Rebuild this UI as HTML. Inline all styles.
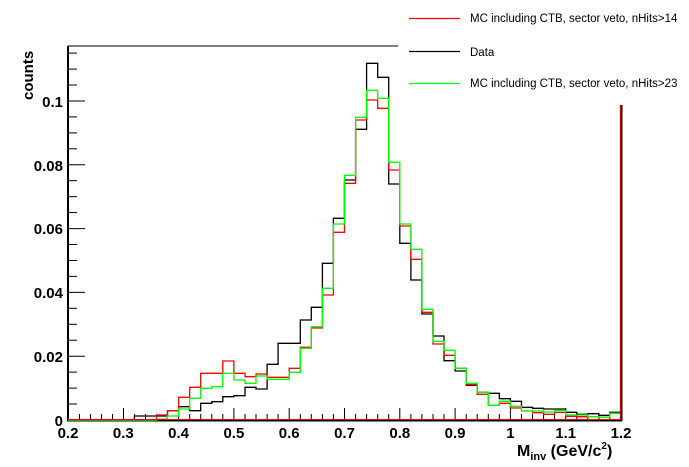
<!DOCTYPE html>
<html><head><meta charset="utf-8"><style>
html,body{margin:0;padding:0;background:#fff;}
svg{display:block;font-family:"Liberation Sans",Arial,sans-serif;}
</style></head><body>
<svg width="689" height="467" viewBox="0 0 689 467" xmlns="http://www.w3.org/2000/svg">
<rect width="689" height="467" fill="#fff"/>
<!-- frame -->
<line x1="68" y1="46" x2="398" y2="46" stroke="#000" stroke-width="1"/>
<line x1="68" y1="46" x2="68" y2="421" stroke="#000" stroke-width="2"/>
<line x1="67" y1="420.5" x2="622" y2="420.5" stroke="#000" stroke-width="2"/>
<!-- y ticks -->
<g stroke="#000" stroke-width="1">
<line x1="68" y1="420" x2="85" y2="420"/><line x1="68" y1="404" x2="77" y2="404"/><line x1="68" y1="388.1" x2="77" y2="388.1"/><line x1="68" y1="372.1" x2="77" y2="372.1"/>
<line x1="68" y1="356.2" x2="85" y2="356.2"/><line x1="68" y1="340.2" x2="77" y2="340.2"/><line x1="68" y1="324.3" x2="77" y2="324.3"/><line x1="68" y1="308.3" x2="77" y2="308.3"/>
<line x1="68" y1="292.4" x2="85" y2="292.4"/><line x1="68" y1="276.4" x2="77" y2="276.4"/><line x1="68" y1="260.5" x2="77" y2="260.5"/><line x1="68" y1="244.5" x2="77" y2="244.5"/>
<line x1="68" y1="228.6" x2="85" y2="228.6"/><line x1="68" y1="212.6" x2="77" y2="212.6"/><line x1="68" y1="196.7" x2="77" y2="196.7"/><line x1="68" y1="180.7" x2="77" y2="180.7"/>
<line x1="68" y1="164.8" x2="85" y2="164.8"/><line x1="68" y1="148.8" x2="77" y2="148.8"/><line x1="68" y1="132.9" x2="77" y2="132.9"/><line x1="68" y1="116.9" x2="77" y2="116.9"/>
<line x1="68" y1="101" x2="85" y2="101"/><line x1="68" y1="85" x2="77" y2="85"/><line x1="68" y1="69.1" x2="77" y2="69.1"/><line x1="68" y1="53.1" x2="77" y2="53.1"/>
</g>
<!-- x ticks -->
<g stroke="#000" stroke-width="1">
<line x1="68.5" y1="408" x2="68.5" y2="420"/><line x1="79.5" y1="414" x2="79.5" y2="420"/><line x1="90.5" y1="414" x2="90.5" y2="420"/><line x1="101.5" y1="414" x2="101.5" y2="420"/><line x1="112.5" y1="414" x2="112.5" y2="420"/>
<line x1="123.5" y1="408" x2="123.5" y2="420"/><line x1="134.5" y1="414" x2="134.5" y2="420"/><line x1="145.5" y1="414" x2="145.5" y2="420"/><line x1="156.5" y1="414" x2="156.5" y2="420"/><line x1="167.5" y1="414" x2="167.5" y2="420"/>
<line x1="178.6" y1="408" x2="178.6" y2="420"/><line x1="189.7" y1="414" x2="189.7" y2="420"/><line x1="200.7" y1="414" x2="200.7" y2="420"/><line x1="211.8" y1="414" x2="211.8" y2="420"/><line x1="222.8" y1="414" x2="222.8" y2="420"/>
<line x1="233.9" y1="408" x2="233.9" y2="420"/><line x1="245" y1="414" x2="245" y2="420"/><line x1="256" y1="414" x2="256" y2="420"/><line x1="267.1" y1="414" x2="267.1" y2="420"/><line x1="278.1" y1="414" x2="278.1" y2="420"/>
<line x1="289.2" y1="408" x2="289.2" y2="420"/><line x1="300.3" y1="414" x2="300.3" y2="420"/><line x1="311.3" y1="414" x2="311.3" y2="420"/><line x1="322.4" y1="414" x2="322.4" y2="420"/><line x1="333.4" y1="414" x2="333.4" y2="420"/>
<line x1="344.5" y1="408" x2="344.5" y2="420"/><line x1="355.6" y1="414" x2="355.6" y2="420"/><line x1="366.6" y1="414" x2="366.6" y2="420"/><line x1="377.7" y1="414" x2="377.7" y2="420"/><line x1="388.7" y1="414" x2="388.7" y2="420"/>
<line x1="399.8" y1="408" x2="399.8" y2="420"/><line x1="410.9" y1="414" x2="410.9" y2="420"/><line x1="421.9" y1="414" x2="421.9" y2="420"/><line x1="433" y1="414" x2="433" y2="420"/><line x1="444" y1="414" x2="444" y2="420"/>
<line x1="455.1" y1="408" x2="455.1" y2="420"/><line x1="466.2" y1="414" x2="466.2" y2="420"/><line x1="477.2" y1="414" x2="477.2" y2="420"/><line x1="488.3" y1="414" x2="488.3" y2="420"/><line x1="499.3" y1="414" x2="499.3" y2="420"/>
<line x1="510.4" y1="408" x2="510.4" y2="420"/><line x1="521.5" y1="414" x2="521.5" y2="420"/><line x1="532.5" y1="414" x2="532.5" y2="420"/><line x1="543.6" y1="414" x2="543.6" y2="420"/><line x1="554.6" y1="414" x2="554.6" y2="420"/>
<line x1="565.7" y1="408" x2="565.7" y2="420"/><line x1="576.8" y1="414" x2="576.8" y2="420"/><line x1="587.8" y1="414" x2="587.8" y2="420"/><line x1="598.9" y1="414" x2="598.9" y2="420"/><line x1="609.9" y1="414" x2="609.9" y2="420"/>
</g>
<!-- histograms -->
<path fill="none" stroke="#000" stroke-width="1.3" d="M68 420 H134.4 V416 H167.5 V410.7 H178.6 V406.7 H189.7 V410.7 H200.7 V403.3 H211.8 V401.7 H222.8 V396.7 H233.9 V395.7 H245 V387.3 H256 V389 H267.1 V364.3 H278.1 V343.3 H300.3 V320 H311.3 V307.3 H322.4 V263.3 H333.4 V218.3 H344.5 V180 H355.6 V129.3 H366.6 V63.3 H377.7 V77.3 H388.7 V184 H399.8 V243.3 H410.9 V280 H421.9 V314 H433 V336 H444 V360.7 H455.1 V371 H466.2 V385.3 H477.2 V392.3 H488.3 V393.3 H499.3 V398.7 H510.4 V401.3 H521.5 V407.3 H532.5 V408.3 H543.6 V409 H565.7 V412.3 H576.8 V414.3 H587.8 V413.7 H598.9 V415.3 H609.9 V412.3 H621"/>
<path fill="none" stroke="#f00" stroke-width="1.3" d="M68 420 H156.5 V415 H167.5 V410.7 H178.6 V397.3 H189.7 V387.3 H200.7 V373.3 H222.8 V361 H233.9 V373.3 H245 V376.7 H256 V374 H267.1 V377.3 H289.2 V368.3 H300.3 V347.3 H311.3 V328 H322.4 V295 H333.4 V232.3 H344.5 V183.3 H355.6 V120 H366.6 V100 H377.7 V108.3 H388.7 V170 H399.8 V226 H410.9 V259.3 H421.9 V312.3 H433 V344 H444 V355.3 H455.1 V368.3 H466.2 V384.7 H477.2 V394.3 H488.3 V405.3 H499.3 V403.3 H510.4 V408 H521.5 V411 H532.5 V412.7 H543.6 V414.3 H554.6 V412.3 H565.7 V416.3 H576.8 V416.7 H598.9 V417.3 H609.9 V413.3 H621"/>
<path fill="none" stroke="#0f0" stroke-width="1.3" d="M68 420 H156.5 V419 H167.5 V416 H178.6 V409 H189.7 V398.3 H200.7 V388.3 H211.8 V386.7 H222.8 V373.3 H233.9 V380 H245 V383.3 H256 V376 H267.1 V379.3 H289.2 V372.3 H300.3 V348.3 H311.3 V326.7 H322.4 V288.3 H333.4 V224 H344.5 V175.3 H355.6 V117.3 H366.6 V90.3 H377.7 V98.3 H388.7 V162.3 H399.8 V224 H410.9 V249.3 H421.9 V309.3 H433 V341.3 H444 V350.3 H455.1 V368.3 H466.2 V383.3 H477.2 V392.3 H488.3 V405.3 H499.3 V401.3 H510.4 V406.3 H521.5 V411 H543.6 V412 H554.6 V410.3 H565.7 V415 H587.8 V416.7 H598.9 V417.3 H609.9 V413.3 H621"/>
<line x1="68" y1="419.5" x2="621" y2="419.5" stroke="#f00" stroke-width="1"/>
<!-- right edge -->
<line x1="621.5" y1="105" x2="621.5" y2="421" stroke="#000" stroke-width="2"/>
<line x1="620.3" y1="105" x2="620.3" y2="420" stroke="#f00" stroke-width="1"/>
<!-- y labels -->
<g font-size="15" font-weight="bold" text-anchor="end" fill="#000">
<text x="63" y="107">0.1</text>
<text x="63" y="171">0.08</text>
<text x="63" y="234">0.06</text>
<text x="63" y="298">0.04</text>
<text x="63" y="362">0.02</text>
<text x="63" y="426">0</text>
</g>
<!-- x labels -->
<g font-size="15" font-weight="bold" text-anchor="middle" fill="#000">
<text x="68" y="438">0.2</text>
<text x="123.3" y="438">0.3</text>
<text x="178.6" y="438">0.4</text>
<text x="233.9" y="438">0.5</text>
<text x="289.2" y="438">0.6</text>
<text x="344.5" y="438">0.7</text>
<text x="399.8" y="438">0.8</text>
<text x="455.1" y="438">0.9</text>
<text x="510.4" y="438">1</text>
<text x="565.7" y="438">1.1</text>
<text x="621" y="438">1.2</text>
</g>
<text transform="translate(33,100) rotate(-90)" font-size="15" font-weight="bold">counts</text>
<text x="517" y="456" font-size="16" font-weight="bold">M<tspan font-size="11" dy="4">inv</tspan><tspan dy="-4"> (GeV/c</tspan><tspan font-size="10" dy="-7">2</tspan><tspan dy="7">)</tspan></text>
<!-- legend -->
<g stroke-width="1.2">
<line x1="409" y1="18.5" x2="460" y2="18.5" stroke="#f00"/>
<line x1="409" y1="51.5" x2="460" y2="51.5" stroke="#000"/>
<line x1="409" y1="83.5" x2="460" y2="83.5" stroke="#0f0"/>
</g>
<g font-size="11.5" fill="#000">
<text x="470" y="22">MC including CTB, sector veto, nHits&gt;14</text>
<text x="470" y="56">Data</text>
<text x="470" y="87">MC including CTB, sector veto, nHits&gt;23</text>
</g>
</svg>
</body></html>
